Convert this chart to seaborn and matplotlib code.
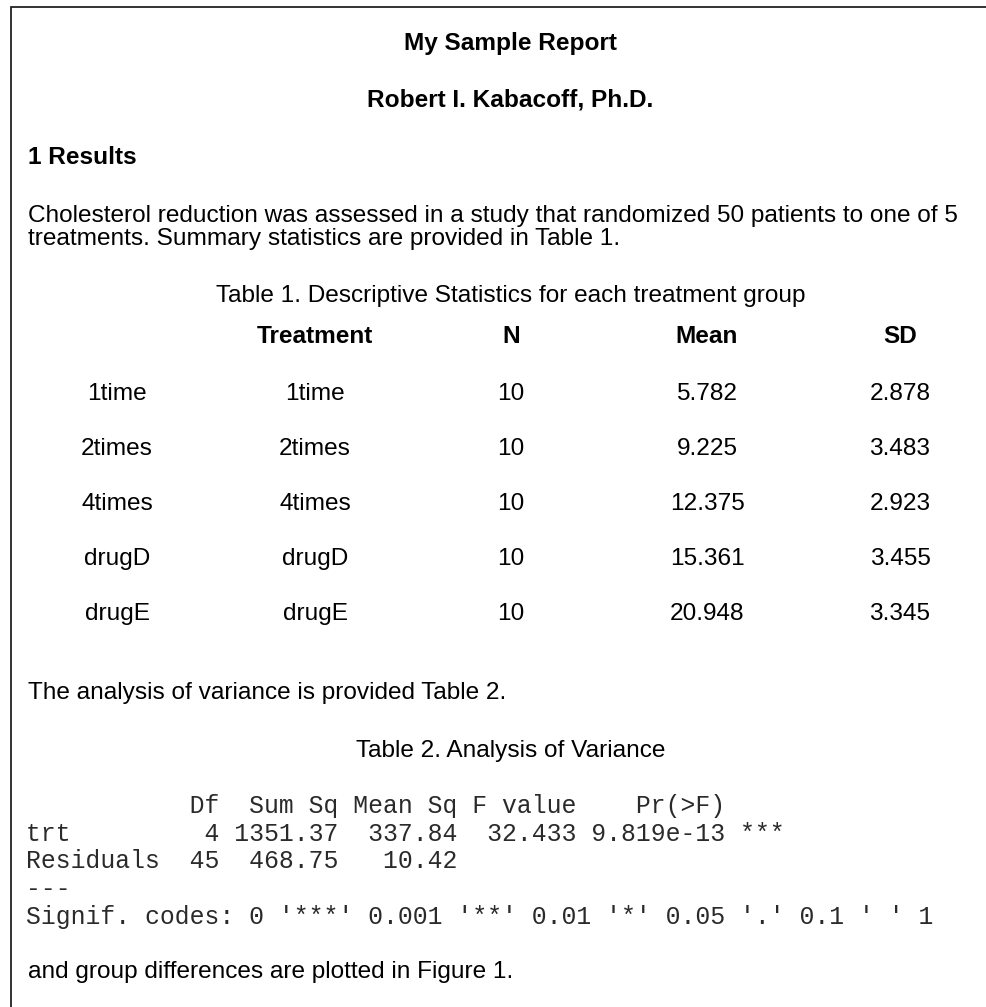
import numpy as np
import pandas as pd
import matplotlib.pyplot as plt
import seaborn as sns

# report text
title = "My Sample Report"
author = "Robert I. Kabacoff, Ph.D."
section = "1 Results"
intro = ["Cholesterol reduction was assessed in a study that randomized 50 patients to one of 5",
         "treatments. Summary statistics are provided in Table 1."]
table1_caption = "Table 1. Descriptive Statistics for each treatment group"

# table 1 data
groups = ["1time", "2times", "4times", "drugD", "drugE"]
n_obs = [10, 10, 10, 10, 10]
means = [5.782, 9.225, 12.375, 15.361, 20.948]
sds = [2.878, 3.483, 2.923, 3.455, 3.345]
headers = ["Treatment", "N", "Mean", "SD"]

anova_intro = "The analysis of variance is provided Table 2."
table2_caption = "Table 2. Analysis of Variance"

# anova output (R console text)
anova_lines = [
    "           Df  Sum Sq Mean Sq F value    Pr(>F)",
    "trt         4 1351.37  337.84  32.433 9.819e-13 ***",
    "Residuals  45  468.75   10.42",
    "---",
    "Signif. codes: 0 '***' 0.001 '**' 0.01 '*' 0.05 '.' 0.1 ' ' 1",
]
closing = "and group differences are plotted in Figure 1."

df = pd.DataFrame({"Treatment": groups, "N": n_obs, "Mean": means, "SD": sds}, index=groups)

sns.set_theme(style="white")
plt.rcParams['font.family'] = ['Liberation Sans', 'DejaVu Sans']
plt.rcParams['text.color'] = 'black'

W, H = 986, 1007
fig = plt.figure(figsize=(W / 100, H / 100), dpi=100)
ax = fig.add_axes([0, 0, 1, 1])
ax.set_xlim(0, W)
ax.set_ylim(H, 0)
ax.axis("off")

fs = 17.6
# page border (only left and top edges are visible)
ax.plot([11, 11, W], [H, 7, 7], color="#222222", lw=1.3, solid_joinstyle="miter")

ax.text(510, 50, title, ha="center", va="baseline", fontsize=fs, fontweight="bold")
ax.text(510, 107, author, ha="center", va="baseline", fontsize=fs, fontweight="bold")
ax.text(28, 164, section, ha="left", va="baseline", fontsize=fs, fontweight="bold")
for i, line in enumerate(intro):
    ax.text(28, 222 + 23.3 * i, line, ha="left", va="baseline", fontsize=fs)

ax.text(511, 302, table1_caption, ha="center", va="baseline", fontsize=fs)
col_x = [315, 511, 707, 900]
for x, h in zip(col_x, headers):
    ax.text(x, 343, h, ha="center", va="baseline", fontsize=fs, fontweight="bold")
for i, (name, row) in enumerate(df.iterrows()):
    y = 400 + 55 * i
    vals = [name, row["Treatment"], f"{row['N']}", f"{row['Mean']:.3f}", f"{row['SD']:.3f}"]
    for x, v in zip([117] + col_x, vals):
        ax.text(x, y, v, ha="center", va="baseline", fontsize=fs)

ax.text(28, 699, anova_intro, ha="left", va="baseline", fontsize=fs)
ax.text(511, 757, table2_caption, ha="center", va="baseline", fontsize=fs)
for i, line in enumerate(anova_lines):
    ax.text(26, 813 + 27.75 * i, line, ha="left", va="baseline", fontsize=17.8,
            family=["Liberation Mono", "DejaVu Sans Mono"], color="#2a2a2a")
ax.text(28, 978, closing, ha="left", va="baseline", fontsize=fs)

fig.savefig("out.png", dpi=100, facecolor="white")
